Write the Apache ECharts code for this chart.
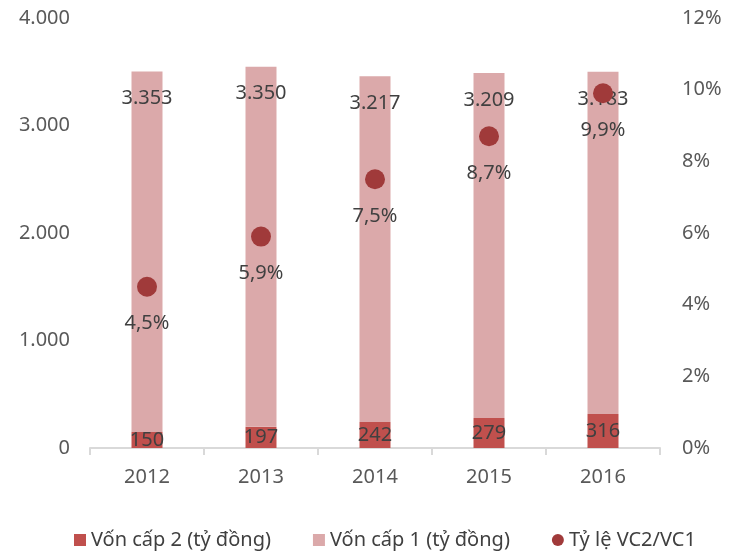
<!DOCTYPE html>
<html>
<head>
<meta charset="utf-8">
<script src="https://cdn.jsdelivr.net/npm/echarts@6/dist/echarts.min.js"></script>
<style>
  html, body { margin: 0; padding: 0; background: #fff; }
  #chart { width: 738px; height: 552px; }
</style>
</head>
<body>
<div id="chart"></div>
<script>
// so lieu doc tu hinh
const years = ['2012', '2013', '2014', '2015', '2016']
const vonCap2 = [150, 197, 242, 279, 316]
const vonCap1 = [3353, 3350, 3217, 3209, 3183]
const tyLe = [4.5, 5.9, 7.5, 8.7, 9.9]

const font = `'Noto Sans', 'Open Sans', sans-serif`

function fmtNum (v) {
  return String(Math.round(v)).replace(/\B(?=(\d{3})+(?!\d))/g, '.')
}

const chart = echarts.init(document.getElementById('chart'))
chart.setOption({
  animation: false,
  textStyle: { fontFamily: font },
  grid: { left: 90, right: 78, top: 18, bottom: 104 },
  legend: {
    top: 525,
    left: 69,
    itemGap: 42,
    itemWidth: 12,
    itemHeight: 12,
    textStyle: { color: '#404040', fontSize: 20, fontFamily: font },
    data: [
      { name: 'Vốn cấp 2 (tỷ đồng)', icon: 'rect' },
      { name: 'Vốn cấp 1 (tỷ đồng)', icon: 'rect' },
      { name: 'Tỷ lệ VC2/VC1', icon: 'circle', itemStyle: { color: '#a03a3a' } }
    ]
  },
  xAxis: {
    type: 'category',
    data: years,
    boundaryGap: true,
    axisLine: { lineStyle: { color: '#d9d9d9', width: 2 } },
    axisTick: { show: true, length: 7, lineStyle: { color: '#d9d9d9', width: 2 } },
    axisLabel: { color: '#595959', fontSize: 20, margin: 19, fontFamily: font }
  },
  yAxis: [
    {
      type: 'value',
      min: 0,
      max: 4000,
      interval: 1000,
      splitLine: { show: false },
      axisLine: { show: false },
      axisTick: { show: false },
      axisLabel: { color: '#595959', fontSize: 20, margin: 20, fontFamily: font, formatter: fmtNum }
    },
    {
      type: 'value',
      min: 0,
      max: 12,
      interval: 2,
      splitLine: { show: false },
      axisLine: { show: false },
      axisTick: { show: false },
      axisLabel: { color: '#595959', fontSize: 20, margin: 22, fontFamily: font, formatter: v => v + '%' }
    }
  ],
  series: [
    {
      name: 'Vốn cấp 2 (tỷ đồng)',
      type: 'bar',
      stack: 'von',
      barWidth: 31,
      itemStyle: { color: '#c0504d' },
      label: {
        show: true,
        position: 'inside',
        color: '#404040',
        fontSize: 20,
        fontFamily: font,
        formatter: p => fmtNum(p.value)
      },
      data: vonCap2
    },
    {
      name: 'Vốn cấp 1 (tỷ đồng)',
      type: 'bar',
      stack: 'von',
      barWidth: 31,
      itemStyle: { color: '#dba9aa' },
      label: {
        show: true,
        position: 'insideTop',
        distance: 17,
        color: '#404040',
        fontSize: 20,
        fontFamily: font,
        formatter: p => fmtNum(p.value)
      },
      data: vonCap1
    },
    {
      name: 'Tỷ lệ VC2/VC1',
      type: 'scatter',
      yAxisIndex: 1,
      symbolSize: 20,
      z: 5,
      itemStyle: { color: '#a03a3a', opacity: 1 },
      label: {
        show: true,
        position: 'bottom',
        distance: 17,
        color: '#404040',
        fontSize: 20,
        fontFamily: font,
        formatter: p => String(p.value).replace('.', ',') + '%'
      },
      data: tyLe
    }
  ]
})
</script>
</body>
</html>
